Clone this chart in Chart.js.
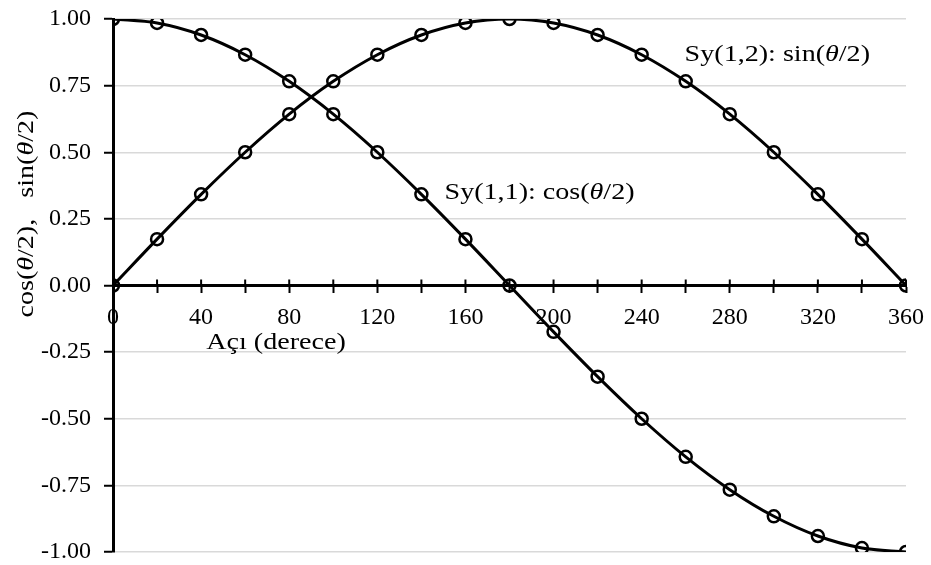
<!DOCTYPE html>
<html>
<head>
<meta charset="utf-8">
<script src="https://cdn.jsdelivr.net/npm/chart.js@4"></script>
<style>
  html, body { margin: 0; padding: 0; background: #fff; }
  #wrap { width: 931px; height: 565px; }
</style>
</head>
<body>
<div id="wrap"><canvas id="spinChart"></canvas></div>
<script>
// -----------------------------
// DATA
// -----------------------------
const angles = [0, 20, 40, 60, 80, 100, 120, 140, 160, 180, 200, 220, 240, 260, 280, 300, 320, 340, 360];
const cosHalf = [1.000, 0.985, 0.940, 0.866, 0.766, 0.643, 0.500, 0.342, 0.174, 0.000,
                 -0.174, -0.342, -0.500, -0.643, -0.766, -0.866, -0.940, -0.985, -1.000];
const sinHalf = [0.000, 0.174, 0.342, 0.500, 0.643, 0.766, 0.866, 0.940, 0.985, 1.000,
                 0.985, 0.940, 0.866, 0.766, 0.643, 0.500, 0.342, 0.174, 0.000];
const yTicks = [-1, -0.75, -0.5, -0.25, 0, 0.25, 0.5, 0.75, 1];

const FONT = "'Liberation Serif', 'DejaVu Serif', serif";
const TICK_SIZE = 24;
const TEXT_SIZE = 24;
const TEXT_STRETCH = 1.17;

// text runs: [text, italic?]
const cosLabel = [["Sy(1,1): cos(", false], ["θ", true], ["/2)", false]];
const sinLabel = [["Sy(1,2): sin(", false], ["θ", true], ["/2)", false]];
const yTitle = [["cos(", false], ["θ", true], ["/2),   sin(", false], ["θ", true], ["/2)", false]];
const xTitle = [["Açı (derece)", false]];

// -----------------------------
// RICH TEXT HELPERS
// -----------------------------
function runFont(italic) {
    return (italic ? "italic " : "") + TEXT_SIZE + "px " + FONT;
}

function runsWidth(ctx, runs) {
    let w = 0;
    runs.forEach(([t, it]) => { ctx.font = runFont(it); w += ctx.measureText(t).width; });
    return w * TEXT_STRETCH;
}

// draws runs starting at (x, y), slightly widened like the original typeface
function drawRuns(ctx, runs, x, y) {
    ctx.save();
    ctx.translate(x, y);
    ctx.scale(TEXT_STRETCH, 1);
    ctx.textBaseline = "middle";
    ctx.textAlign = "left";
    ctx.fillStyle = "#000";
    let cx = 0;
    runs.forEach(([t, it]) => {
        ctx.font = runFont(it);
        ctx.fillText(t, cx, 0);
        cx += ctx.measureText(t).width;
    });
    ctx.restore();
}

// -----------------------------
// ANNOTATIONS + CROSSING TICKS
// -----------------------------
const extras = {
    id: "extras",
    afterDraw(chart) {
        const { ctx, scales } = chart;
        const xs = scales.x, ys = scales.y;
        const y0 = ys.getPixelForValue(0);

        ctx.save();

        // upper half of x tick marks
        ctx.strokeStyle = "#000";
        ctx.lineWidth = 2;
        angles.forEach(a => {
            const px = xs.getPixelForValue(a);
            ctx.beginPath();
            ctx.moveTo(px, y0 - 6);
            ctx.lineTo(px, y0);
            ctx.stroke();
        });

        drawRuns(ctx, cosLabel, xs.getPixelForValue(150.5), ys.getPixelForValue(0.35));
        drawRuns(ctx, sinLabel, xs.getPixelForValue(259.5), ys.getPixelForValue(0.865));

        const xw = runsWidth(ctx, xTitle);
        drawRuns(ctx, xTitle, xs.getPixelForValue(74) - xw / 2, ys.getPixelForValue(-0.216));

        // rotated y title
        const yw = runsWidth(ctx, yTitle);
        ctx.translate(27, ys.getPixelForValue(0.268));
        ctx.rotate(-Math.PI / 2);
        drawRuns(ctx, yTitle, -yw / 2, 0);

        ctx.restore();
    }
};

// -----------------------------
// CHART
// -----------------------------
function seriesPoints(values) {
    return angles.map((a, i) => ({ x: a, y: values[i] }));
}

const lineStyle = {
    borderColor: "#000",
    borderWidth: 3,
    pointRadius: 6,
    pointBorderWidth: 2.5,
    pointBorderColor: "#000",
    pointBackgroundColor: "rgba(0,0,0,0)",
    cubicInterpolationMode: "monotone",
    fill: false
};

function noPadding(s) {
    s.paddingTop = 0;
    s.paddingBottom = 0;
    s.paddingLeft = 0;
    s.paddingRight = 0;
}

new Chart(document.getElementById("spinChart"), {
    type: "line",
    data: {
        datasets: [
            { label: "cos", data: seriesPoints(cosHalf), ...lineStyle },
            { label: "sin", data: seriesPoints(sinHalf), ...lineStyle }
        ]
    },
    options: {
        responsive: true,
        maintainAspectRatio: false,
        animation: false,
        layout: { padding: { left: 0, right: 25, top: 19, bottom: 13 } },
        plugins: { legend: { display: false }, tooltip: { enabled: false } },
        scales: {
            x: {
                type: "linear",
                position: { y: 0 },
                min: 0,
                max: 360,
                afterFit: s => { s.height = 0; noPadding(s); },
                border: { color: "#000", width: 3 },
                grid: { drawOnChartArea: false, drawTicks: true, tickLength: 6, tickColor: "#000", tickWidth: 2 },
                ticks: {
                    stepSize: 20,
                    autoSkip: false,
                    maxRotation: 0,
                    padding: 12,
                    color: "#000",
                    font: { family: FONT, size: TICK_SIZE },
                    callback: v => (v % 40 === 0 ? String(v) : "")
                }
            },
            y: {
                type: "linear",
                position: "left",
                min: -1,
                max: 1,
                afterFit: s => { s.width = 113; noPadding(s); },
                afterBuildTicks: s => { s.ticks = yTicks.map(v => ({ value: v })); },
                border: { color: "#000", width: 3 },
                grid: { color: "#d9d9d9", lineWidth: 1.5, tickColor: "#000", tickWidth: 2, tickLength: 9 },
                ticks: {
                    padding: 13,
                    color: "#000",
                    font: { family: FONT, size: TICK_SIZE },
                    callback: v => v.toFixed(2)
                }
            }
        }
    },
    plugins: [extras]
});
</script>
</body>
</html>
